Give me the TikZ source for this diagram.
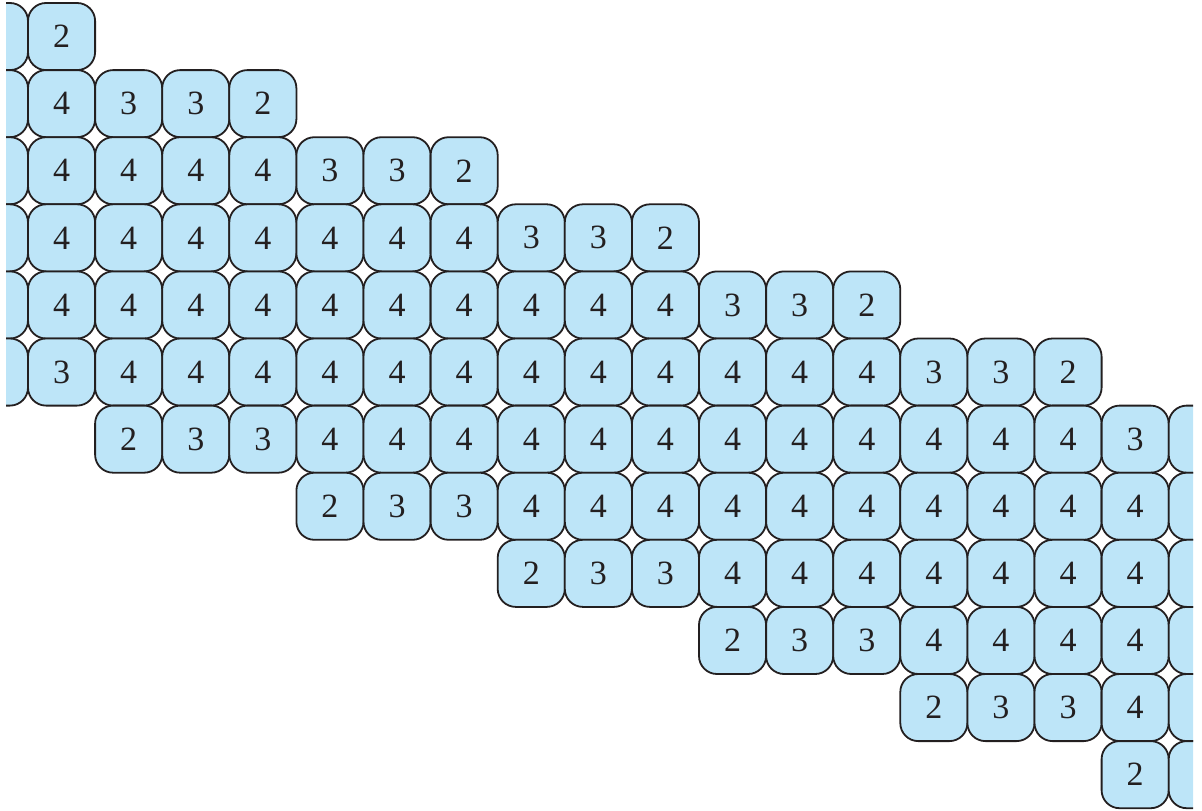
\documentclass[tikz,border=0pt]{standalone}
\usepackage{fontspec}
\setmainfont{Liberation Serif}
\definecolor{cellfill}{RGB}{189,229,248}
\definecolor{cellline}{RGB}{35,31,32}
\begin{document}
\begin{tikzpicture}[x=1pt,y=1pt,
  cell/.style={draw=cellline, fill=cellfill, line width=1.8pt, rectangle,
    rounded corners=18pt, minimum size=67.1pt, inner sep=0pt,
    font=\fontsize{34}{40}\selectfont, text=cellline}]
\useasboundingbox (0,0) rectangle (1202,-811);
\clip (6,0) rectangle (1193,-811);
\foreach \r/\s/\vals in {
  0/0/{{},2},
  1/0/{{},4,3,3,2},
  2/0/{{},4,4,4,4,3,3,2},
  3/0/{{},4,4,4,4,4,4,4,3,3,2},
  4/0/{{},4,4,4,4,4,4,4,4,4,4,3,3,2},
  5/0/{{},3,4,4,4,4,4,4,4,4,4,4,4,4,3,3,2},
  6/2/{2,3,3,4,4,4,4,4,4,4,4,4,4,4,4,3,{}},
  7/5/{2,3,3,4,4,4,4,4,4,4,4,4,4,{}},
  8/8/{2,3,3,4,4,4,4,4,4,4,{}},
  9/11/{2,3,3,4,4,4,4,{}},
  10/14/{2,3,3,4,{}},
  11/17/{2,{}}}{
  \foreach \v [count=\i from \s] in \vals {
    \node[cell] (c\r-\i) at ({61.55+67.1*(\i-1)}, {-(36.55+67.1*\r)}) {\v};
  }
}
\end{tikzpicture}
\end{document}
